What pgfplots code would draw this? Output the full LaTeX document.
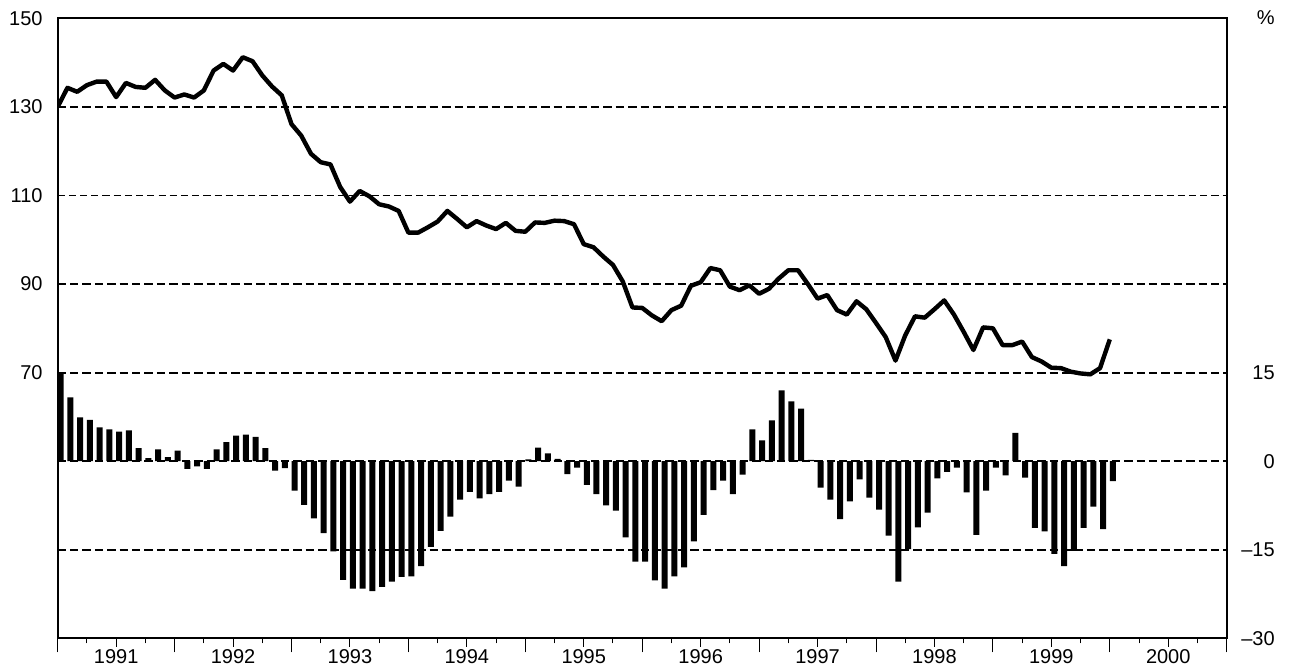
\documentclass[border=0pt]{standalone}
\usepackage{fontspec}
\setmainfont{Liberation Sans}
\usepackage{pgfplots}
\pgfplotsset{compat=1.18}
\usepackage{pgfplotstable}

\pgfplotstableread{
i v
0 130.0
1 134.3
2 133.4
3 134.9
4 135.7
5 135.7
6 132.2
7 135.4
8 134.5
9 134.3
10 136.1
11 133.7
12 132.1
13 132.8
14 132.1
15 133.7
16 138.2
17 139.7
18 138.2
19 141.2
20 140.3
21 137.1
22 134.6
23 132.6
24 126.1
25 123.5
26 119.4
27 117.5
28 117.0
29 111.9
30 108.6
31 111.0
32 109.8
33 108.0
34 107.5
35 106.5
36 101.6
37 101.6
38 102.8
39 104.1
40 106.5
41 104.7
42 102.8
43 104.2
44 103.2
45 102.4
46 103.8
47 102.0
48 101.8
49 103.9
50 103.8
51 104.3
52 104.2
53 103.5
54 99.0
55 98.3
56 96.2
57 94.3
58 90.6
59 84.7
60 84.6
61 82.9
62 81.6
63 84.1
64 85.1
65 89.6
66 90.4
67 93.6
68 93.1
69 89.4
70 88.6
71 89.7
72 87.8
73 88.9
74 91.2
75 93.1
76 93.1
77 90.0
78 86.7
79 87.5
80 84.1
81 83.1
82 86.1
83 84.3
84 81.2
85 78.0
86 72.7
87 78.4
88 82.7
89 82.4
90 84.3
91 86.3
92 83.1
93 79.2
94 75.1
95 80.2
96 80.0
97 76.2
98 76.2
99 77.0
100 73.5
101 72.5
102 71.1
103 71.0
104 70.2
105 69.8
106 69.6
107 71.0
108 77.5
}\lineTab

\pgfplotstableread{
i r
0 15.0
1 10.8
2 7.4
3 7.0
4 5.7
5 5.4
6 5.0
7 5.2
8 2.2
9 0.5
10 2.0
11 0.7
12 1.8
13 -1.3
14 -0.9
15 -1.3
16 2.0
17 3.2
18 4.3
19 4.5
20 4.1
21 2.2
22 -1.6
23 -1.2
24 -5.0
25 -7.4
26 -9.7
27 -12.2
28 -15.3
29 -20.1
30 -21.6
31 -21.6
32 -22.0
33 -21.3
34 -20.4
35 -19.6
36 -19.5
37 -17.8
38 -14.5
39 -11.8
40 -9.4
41 -6.5
42 -5.2
43 -6.3
44 -5.6
45 -5.2
46 -3.3
47 -4.3
48 0.3
49 2.3
50 1.3
51 0.4
52 -2.2
53 -1.1
54 -4.0
55 -5.6
56 -7.5
57 -8.4
58 -12.9
59 -17.0
60 -17.0
61 -20.2
62 -21.6
63 -19.5
64 -18.0
65 -13.6
66 -9.1
67 -4.9
68 -3.3
69 -5.6
70 -2.3
71 5.4
72 3.5
73 6.9
74 12.0
75 10.1
76 8.9
77 0.2
78 -4.5
79 -6.5
80 -9.8
81 -6.8
82 -3.1
83 -6.2
84 -8.2
85 -12.6
86 -20.4
87 -14.9
88 -11.2
89 -8.7
90 -2.9
91 -1.8
92 -1.1
93 -5.3
94 -12.5
95 -5.0
96 -1.1
97 -2.4
98 4.8
99 -2.8
100 -11.3
101 -11.9
102 -15.7
103 -17.8
104 -15.2
105 -11.3
106 -7.7
107 -11.5
108 -3.4
}\barTab

\begin{document}
\begin{tikzpicture}
\begin{axis}[
  name=main,
  scale only axis, width=584.5pt, height=310pt,
  xmin=1991, xmax=2001, ymin=10, ymax=150,
  axis line style={line width=1pt},
  xtick={1991.5,1992.5,1993.5,1994.5,1995.5,1996.5,1997.5,1998.5,1999.5,2000.5},
  xticklabels={1991,1992,1993,1994,1995,1996,1997,1998,1999,2000},
  minor xtick={1991.25,1991.75,1992.25,1992.75,1993.25,1993.75,1994.25,1994.75,1995.25,1995.75,1996.25,1996.75,1997.25,1997.75,1998.25,1998.75,1999.25,1999.75,2000.25,2000.75},
  extra x ticks={1991,1992,1993,1994,1995,1996,1997,1998,1999,2000,2001},
  extra x tick labels={},
  extra x tick style={major tick length=7pt},
  major tick length=4.2pt, minor tick length=2.5pt,
  tick align=outside, xtick pos=bottom,
  tick style={line width=0.5pt, black},
  ytick={70,90,110,130,150},
  yticklabels={70,90,110,130,150},
  ytick style={draw=none},
  ytick pos=left,
  yticklabel style={anchor=east, inner xsep=0pt, xshift=-3.15pt},
  xticklabel style={inner ysep=1pt},
  tick label style={font=\fontsize{10}{12}\selectfont},
]
\draw[line width=1pt, dash pattern=on 4.2pt off 2pt] (axis cs:1991,130) -- (axis cs:2001,130);
\draw[line width=0.6pt, dash pattern=on 3.6pt off 2pt] (axis cs:1991,110) -- (axis cs:2001,110);
\draw[line width=1pt, dash pattern=on 4.2pt off 2pt] (axis cs:1991,90) -- (axis cs:2001,90);
\draw[line width=1pt, dash pattern=on 4.2pt off 2pt] (axis cs:1991,70) -- (axis cs:2001,70);
\draw[line width=1pt, dash pattern=on 4.2pt off 2pt] (axis cs:1991,50) -- (axis cs:2001,50);
\draw[line width=1pt, dash pattern=on 4.2pt off 2pt] (axis cs:1991,30) -- (axis cs:2001,30);
\addplot[black, line width=2.2pt, line join=round, mark=none]
  table[x expr=1991+\thisrow{i}/12, y=v] {\lineTab};
\end{axis}
\begin{axis}[
  scale only axis, width=584.5pt, height=310pt,
  xmin=1991, xmax=2001, ymin=-30, ymax=75,
  hide x axis,
  axis line style={draw=none},
  ytick={-30,-15,0,15},
  yticklabels={–30,–15,0,15},
  ytick style={draw=none},
  yticklabel pos=right,
  yticklabel style={anchor=east, inner xsep=0pt, xshift=24.2pt},
  tick label style={font=\fontsize{10}{12}\selectfont},
]
\addplot[ybar, fill=black, draw=none, bar width=3pt, bar shift=1.5pt]
  table[x expr=1991+\thisrow{i}/12, y=r] {\barTab};
\end{axis}
\node[anchor=east, inner sep=0pt, font=\fontsize{10}{12}\selectfont] at ([xshift=24.2pt, yshift=0.5pt]main.north east) {\%};
\pgfresetboundingbox
\path[use as bounding box] ([xshift=-28.85pt, yshift=-13.85pt]main.south west) rectangle ([xshift=32.65pt, yshift=9.15pt]main.north east);
\end{tikzpicture}
\end{document}
